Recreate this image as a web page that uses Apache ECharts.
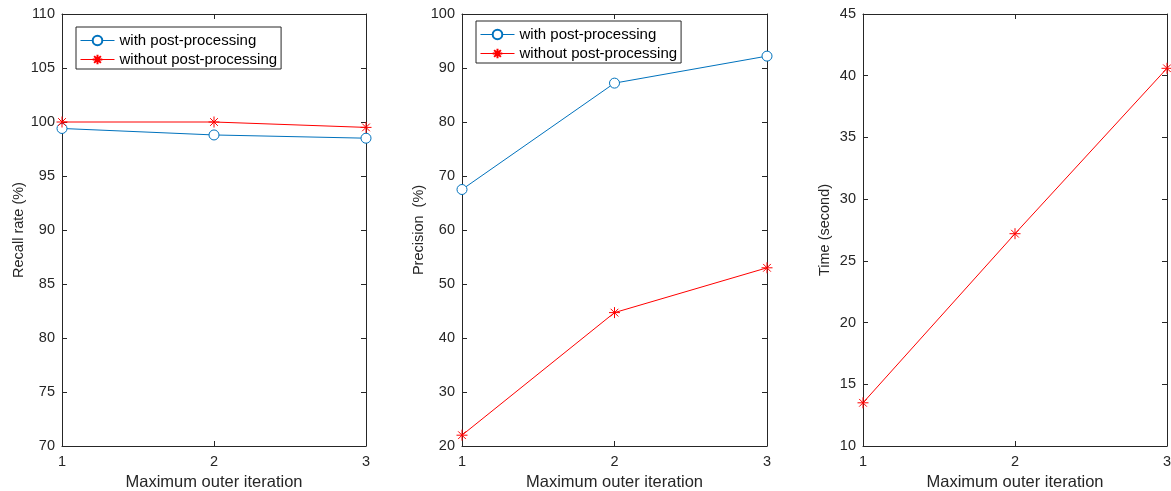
<!DOCTYPE html>
<html>
<head>
<meta charset="utf-8">
<script src="https://cdn.jsdelivr.net/npm/echarts@6/dist/echarts.min.js"></script>
<style>
  html, body { margin: 0; padding: 0; background: #fff; }
  #main { width: 1171px; height: 491px; }
</style>
</head>
<body>
<div id="main"></div>
<script>
// 数据
const iterations = [1, 2, 3];
const recallWith = [99.4, 98.8, 98.5];
const recallWithout = [100, 100, 99.5];
const precisionWith = [67.5, 87.2, 92.2];
const precisionWithout = [22.0, 44.7, 53.0];
const timeWithout = [13.5, 27.2, 40.6];

const nameWith = "with post-processing";
const nameWithout = "without post-processing";

const FONT = "'Liberation Sans', Helvetica, Arial, sans-serif";
const AXIS_COLOR = "#262626";
const BLUE = "#0072BD";
const RED = "#FF0000";
const STAR = "path://M5,0 L5,10 M0,5 L10,5 M1.5,1.5 L8.5,8.5 M1.5,8.5 L8.5,1.5";

const gridBase = { top: 14, bottom: 45, containLabel: false, outerBoundsMode: "none" };
const grids = [
  Object.assign({ left: 62, right: 805 }, gridBase),
  Object.assign({ left: 462, right: 404 }, gridBase),
  Object.assign({ left: 863, right: 4 }, gridBase)
];
const yRanges = [
  { min: 70, max: 110, interval: 5, name: "Recall rate (%)", gap: 36 },
  { min: 20, max: 100, interval: 10, name: "Precision  (%)", gap: 35 },
  { min: 10, max: 45, interval: 5, name: "Time (second)", gap: 31 }
];

const pts = arr => iterations.map((x, i) => [x, arr[i]]);

const xAxis = [];
const yAxis = [];
grids.forEach((g, i) => {
  // 下/左 主轴
  xAxis.push({
    type: "value", gridIndex: i, min: 1, max: 3, interval: 1,
    name: "Maximum outer iteration", nameLocation: "middle", nameGap: 25,
    nameTextStyle: { fontFamily: FONT, fontSize: 16.5, color: AXIS_COLOR },
    axisLine: { lineStyle: { color: AXIS_COLOR, width: 1 } },
    axisTick: { inside: true, length: 5, lineStyle: { color: AXIS_COLOR } },
    axisLabel: { fontFamily: FONT, fontSize: 14.5, color: AXIS_COLOR, margin: 8 },
    splitLine: { show: false }
  });
  // 上 框线
  xAxis.push({
    type: "value", gridIndex: i, min: 1, max: 3, interval: 1, position: "top",
    axisLine: { onZero: false, lineStyle: { color: AXIS_COLOR, width: 1 } },
    axisTick: { inside: true, length: 5, lineStyle: { color: AXIS_COLOR } },
    axisLabel: { show: false }, splitLine: { show: false }
  });
  const r = yRanges[i];
  yAxis.push({
    type: "value", gridIndex: i, min: r.min, max: r.max, interval: r.interval,
    name: r.name, nameLocation: "middle", nameGap: r.gap,
    nameTextStyle: { fontFamily: FONT, fontSize: 14.5, color: AXIS_COLOR },
    axisLine: { show: true, onZero: false, lineStyle: { color: AXIS_COLOR, width: 1 } },
    axisTick: { show: true, inside: true, length: 5, lineStyle: { color: AXIS_COLOR } },
    axisLabel: { fontFamily: FONT, fontSize: 14.5, color: AXIS_COLOR, margin: 7 },
    splitLine: { show: false }
  });
  yAxis.push({
    type: "value", gridIndex: i, min: r.min, max: r.max, interval: r.interval, position: "right",
    axisLine: { show: true, onZero: false, lineStyle: { color: AXIS_COLOR, width: 1 } },
    axisTick: { show: true, inside: true, length: 5, lineStyle: { color: AXIS_COLOR } },
    axisLabel: { show: false }, splitLine: { show: false }
  });
});

function lineSeries(name, data, idx, color, isStar) {
  return {
    name: name, type: "line", xAxisIndex: idx * 2, yAxisIndex: idx * 2,
    data: pts(data),
    symbol: isStar ? STAR : "circle",
    symbolSize: isStar ? 11 : 10,
    showAllSymbol: true,
    animation: false,
    lineStyle: { color: color, width: 1 },
    itemStyle: isStar
      ? { color: "none", borderColor: color, borderWidth: 1 }
      : { color: "#fff", borderColor: color, borderWidth: 1 }
  };
}

const legendBase = {
  orient: "vertical",
  data: [nameWith, nameWithout],
  itemWidth: 34,
  itemHeight: 12,
  itemGap: 4,
  padding: [6, 4, 2, 4],
  borderColor: AXIS_COLOR,
  borderWidth: 1,
  backgroundColor: "#fff",
  lineStyle: { width: 1 },
  textStyle: { fontFamily: FONT, fontSize: 15, color: "#000" },
  selectedMode: false
};

const chart = echarts.init(document.getElementById("main"));
chart.setOption({
  backgroundColor: "#fff",
  animation: false,
  grid: grids,
  xAxis: xAxis,
  yAxis: yAxis,
  legend: [
    Object.assign({}, legendBase, { left: 76, top: 27 }),
    Object.assign({}, legendBase, { left: 476, top: 21 })
  ],
  series: [
    lineSeries(nameWith, recallWith, 0, BLUE, false),
    lineSeries(nameWithout, recallWithout, 0, RED, true),
    lineSeries(nameWith, precisionWith, 1, BLUE, false),
    lineSeries(nameWithout, precisionWithout, 1, RED, true),
    lineSeries(nameWithout, timeWithout, 2, RED, true)
  ]
});
</script>
</body>
</html>
